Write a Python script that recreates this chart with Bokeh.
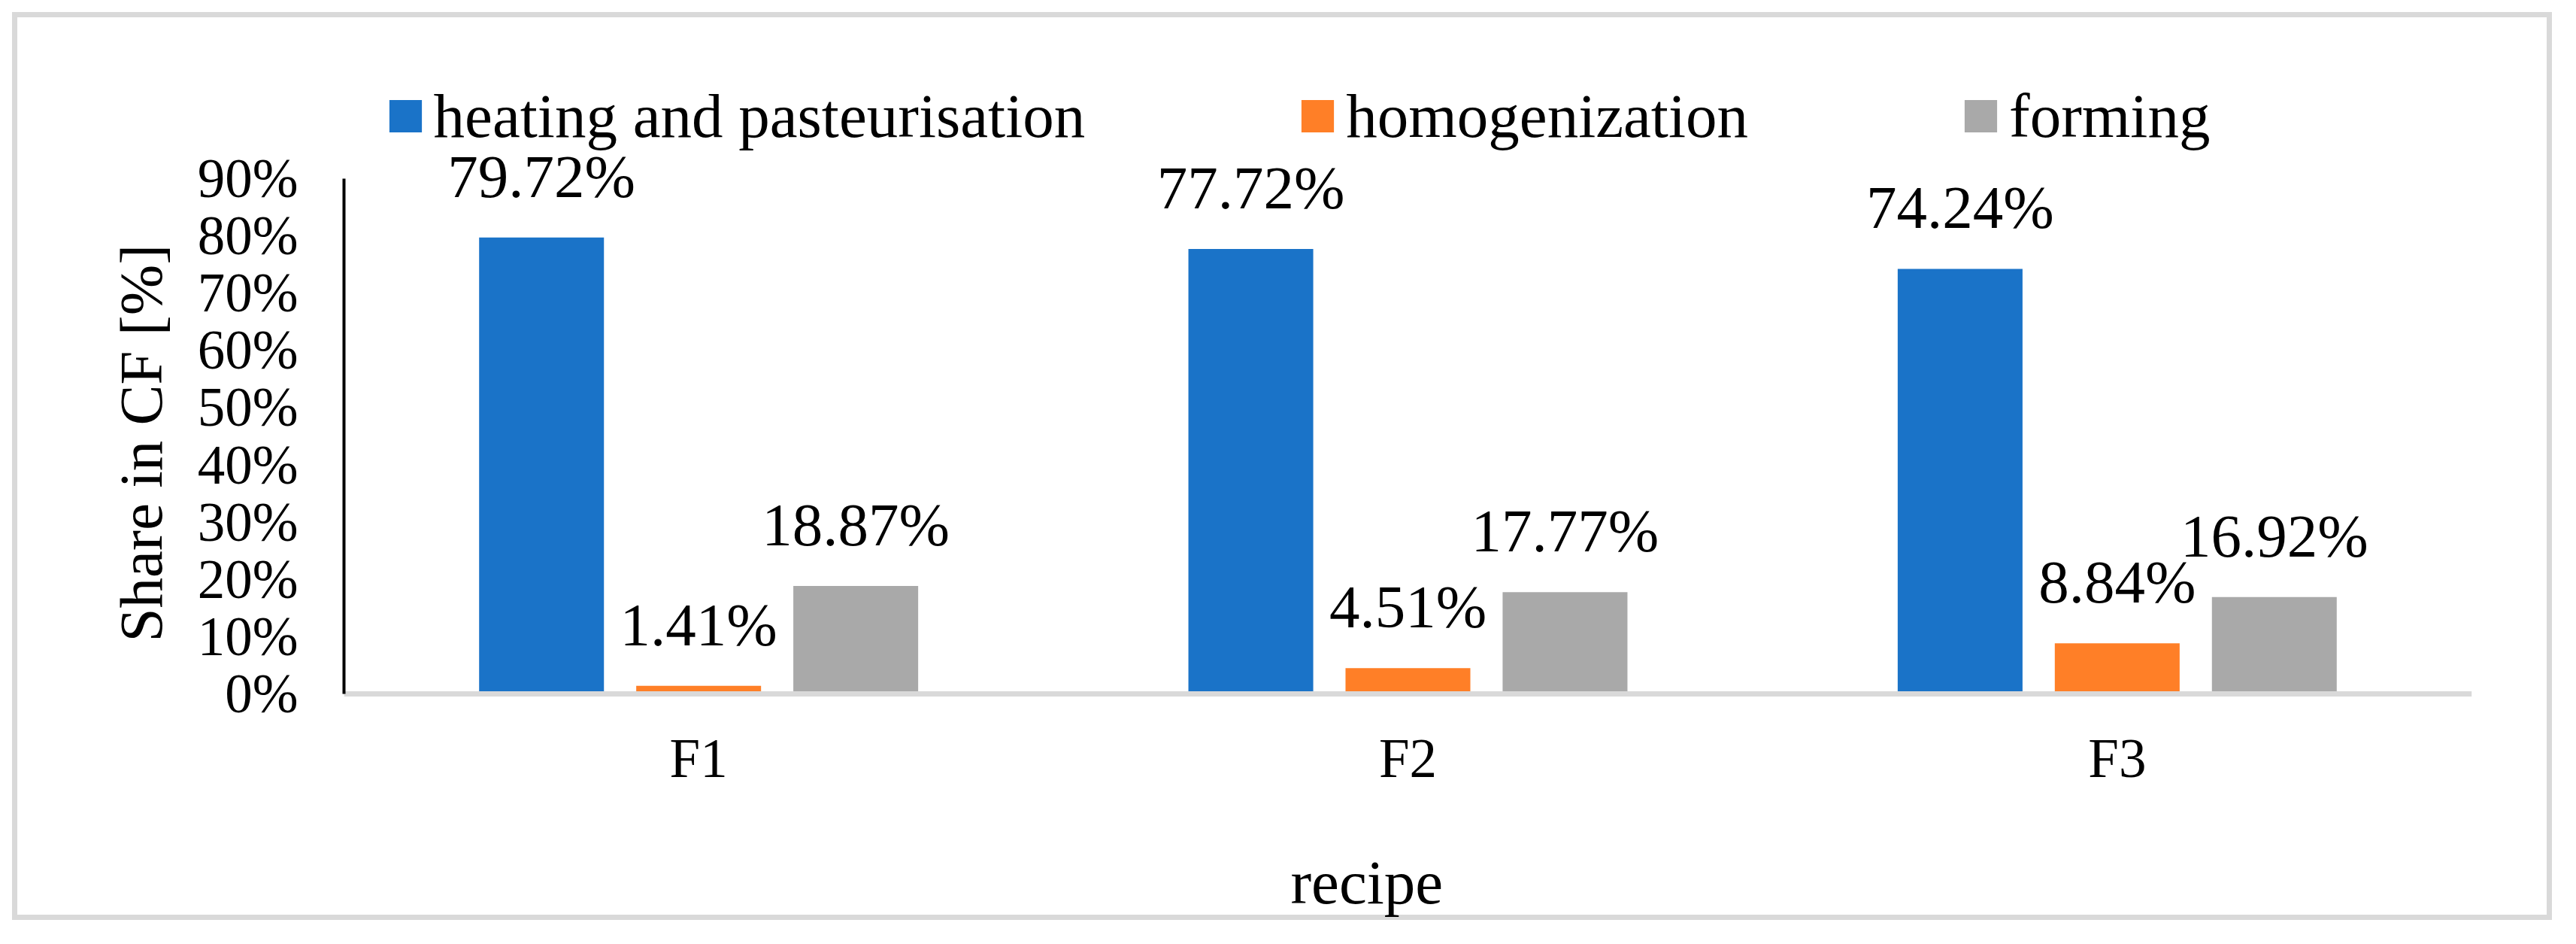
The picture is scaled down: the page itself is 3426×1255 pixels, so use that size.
from bokeh.plotting import figure
from bokeh.models import (ColumnDataSource, FactorRange, Range1d, FixedTicker, LabelSet,
                          Legend, LegendItem, Label, Title)
from bokeh.transform import dodge
from bokeh.embed import file_html
from bokeh.resources import INLINE

# ---- data ----
recipes = ["F1", "F2", "F3"]
series_names = ["heating and pasteurisation", "homogenization", "forming"]
heating = [79.72, 77.72, 74.24]
homogenization = [1.41, 4.51, 8.84]
forming = [18.87, 17.77, 16.92]
series_values = [heating, homogenization, forming]
colors = ["#1A73C8", "#FF7F27", "#A9A9A9"]
y_ticks = [0, 10, 20, 30, 40, 50, 60, 70, 80, 90]
y_tick_labels = ["0%", "10%", "20%", "30%", "40%", "50%", "60%", "70%", "80%", "90%"]
x_title = "recipe"
y_title = "Share in CF [%]"

FONT = "Liberation Serif"
W, H = 3410, 1239

# vertical layout: value 0 at 922px, value 90 at 237px from top of canvas
PX_PER_UNIT = (922 - 237) / 90.0
y_start = -(H - 922) / PX_PER_UNIT
y_end = 90 + 237 / PX_PER_UNIT

p = figure(x_range=FactorRange(factors=recipes, range_padding=0),
           y_range=Range1d(y_start, y_end),
           width=W, height=H, output_backend="svg", toolbar_location=None,
           min_border_left=457, min_border_right=123,
           min_border_top=0, min_border_bottom=0)
p.xgrid.visible = False
p.ygrid.visible = False
p.outline_line_color = None
p.background_fill_color = None
p.border_fill_color = None
p.styles = {"outline": "7px solid #D9D9D9", "outline-offset": "-23px",
            "background-color": "white"}

offsets = [-0.2215, 0.0, 0.2215]
bar_width = 0.176
items = []
for name, vals, col, off in zip(series_names, series_values, colors, offsets):
    src = ColumnDataSource(dict(recipe=recipes, value=vals,
                                label=[f"{v:.2f}%" for v in vals]))
    r = p.vbar(x=dodge("recipe", off, range=p.x_range), top="value", bottom=0,
               width=bar_width, source=src, fill_color=col, line_color=None)
    items.append(LegendItem(label=name, renderers=[r]))
    labels = LabelSet(x=dodge("recipe", off, range=p.x_range), y="value", text="label",
                      source=src, text_align="center", text_baseline="alphabetic",
                      y_offset=54, text_font=FONT, text_font_size="81px",
                      text_color="black")
    p.add_layout(labels)

# y axis
ya = p.yaxis[0]
ya.bounds = (0, 90)
ya.ticker = FixedTicker(ticks=y_ticks)
ya.major_label_overrides = {t: l for t, l in zip(y_ticks, y_tick_labels)}
ya.major_tick_line_color = None
ya.minor_tick_line_color = None
ya.major_tick_out = 0
ya.major_tick_in = 0
ya.major_label_standoff = 61
ya.major_label_text_font = FONT
ya.major_label_text_font_size = "73px"
ya.major_label_text_color = "black"
ya.axis_line_color = "black"
ya.axis_line_width = 4

# y axis title (placed in the left panel, outside the axis)
ytitle = Title(text=y_title, align="left", offset=386, vertical_align="bottom",
               standoff=54, text_font=FONT, text_font_size="81px",
               text_font_style="normal", text_color="black")
p.add_layout(ytitle, "left")

# x axis (sits at value 0)
xa = p.xaxis[0]
xa.fixed_location = 0
xa.axis_line_color = "#D9D9D9"
xa.axis_line_width = 7
xa.major_tick_line_color = None
xa.minor_tick_line_color = None
xa.major_tick_out = 0
xa.major_tick_in = 0
xa.major_label_standoff = 45
xa.major_label_text_font = FONT
xa.major_label_text_font_size = "73px"
xa.major_label_text_color = "black"

# x axis title
xlab = Label(x=1.442, y=-32.85, text=x_title, text_align="center",
             text_baseline="alphabetic", text_font=FONT, text_font_size="83px",
             text_color="black")
p.add_layout(xlab)

# legend
legend = Legend(items=items, orientation="horizontal", location=(54.6, H - 167.4 - 34.5),
                glyph_width=54, glyph_height=54, label_height=54, label_standoff=11,
                spacing=282, padding=0, margin=0, border_line_color=None,
                background_fill_alpha=0, label_text_font=FONT,
                label_text_font_size="83px", label_text_color="black",
                label_text_line_height=0.65)
p.add_layout(legend)

open("out.html", "w").write(file_html(p, INLINE))
